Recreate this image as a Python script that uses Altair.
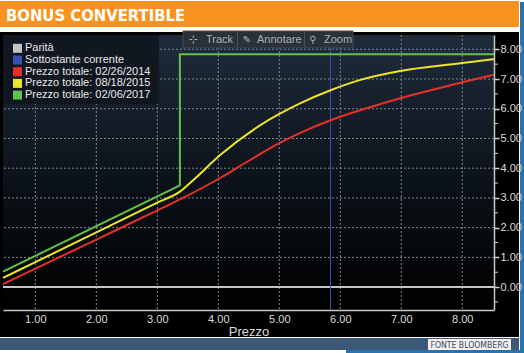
import altair as alt
import pandas as pd

# ---- data ----
x_red = [0.47, 1.0, 2.0, 3.0, 3.38, 4.03, 4.5, 5.0, 5.5, 6.0, 6.5, 7.0, 7.5, 8.0, 8.52]
y_red = [0.10, 0.62, 1.60, 2.58, 2.96, 3.67, 4.25, 4.84, 5.33, 5.73, 6.06, 6.36, 6.63, 6.89, 7.14]

x_yel = [0.47, 1.0, 2.0, 3.0, 3.37, 3.6, 4.03, 4.69, 5.34, 5.85, 6.33, 6.98, 7.97, 8.52]
y_yel = [0.31, 0.84, 1.84, 2.84, 3.21, 3.62, 4.44, 5.45, 6.18, 6.63, 6.97, 7.27, 7.53, 7.67]

x_grn = [0.47, 3.37, 3.37, 8.52]
y_grn = [0.52, 3.42, 7.83, 7.83]

underlying_price = [5.84]
parity_level = [0.0]

x_ticks = [1, 2, 3, 4, 5, 6, 7, 8]
y_ticks = [0, 1, 2, 3, 4, 5, 6, 7, 8]
y_minor = [-0.5, 0.5, 1.5, 2.5, 3.5, 4.5, 5.5, 6.5, 7.5]

legend_labels = ["Parità", "Sottostante corrente", "Prezzo totale: 02/26/2014",
                 "Prezzo totale: 08/18/2015", "Prezzo totale: 02/06/2017"]
legend_colors = ["#c4c4c4", "#3b4fb0", "#e8302a", "#ece62a", "#5fc24e"]

X_DOMAIN = [0.47, 8.52]
Y_DOMAIN = [-0.77, 8.48]
W, H = 491, 275
FONT = "Liberation Sans"

xs = alt.Scale(domain=X_DOMAIN, nice=False, zero=False)
ys = alt.Scale(domain=Y_DOMAIN, nice=False, zero=False)
stroke_scale = alt.Scale(domain=legend_labels, range=legend_colors)

rows = []
for i, (a, b) in enumerate(zip(x_red, y_red)):
    rows.append({"series": legend_labels[2], "x": a, "y": b, "o": i})
for i, (a, b) in enumerate(zip(x_yel, y_yel)):
    rows.append({"series": legend_labels[3], "x": a, "y": b, "o": i})
curves = pd.DataFrame(rows)
green = pd.DataFrame({"series": legend_labels[4], "x": x_grn, "y": y_grn, "o": range(len(x_grn))})

one = alt.Data(values=[{}])


def rect(x, x2, y, y2, fill, **kw):
    return alt.Chart(one).mark_rect(fill=fill, **kw).encode(
        x=alt.value(x), x2=alt.value(x2), y=alt.value(y), y2=alt.value(y2))


def text(t, x, y, **kw):
    return alt.Chart(one).mark_text(text=t, **kw).encode(x=alt.value(x), y=alt.value(y))


# ---- frame decorations ----
orange = rect(-3, 516, -34, -8, "#f7931e")
frame = rect(-3, 516, -3, 302, "#000000")
plotbg = rect(0, W, 0, H, alt.LinearGradient(
    gradient="linear", x1=0, x2=0, y1=0, y2=1,
    stops=[alt.GradientStop(color="#1f2c3c", offset=0),
           alt.GradientStop(color="#0b1118", offset=0.55),
           alt.GradientStop(color="#000000", offset=1)]))
white_line = rect(-3, 516, 302, 303, "#ffffff")
slate = rect(-3, 516, 303, 315, "#3d5876")
fonte_box = rect(425, 508, 304, 315, "#f2f2f2")
fonte_txt = text("FONTE BLOOMBERG", 466.5, 309.8, font="DejaVu Sans Condensed", fontSize=8.6,
                 color="#3a4656", align="center", baseline="middle")
bottom_blue = rect(343, 521, 315, 318, "#2a72ad")
right_strip = rect(517, 521, -33, 318, "#2a72ad")
title = text("BONUS CONVERTIBLE", 3, -14, font="DejaVu Sans Condensed", fontSize=16.5,
             fontWeight="bold", color="#ffffff", align="left", baseline="alphabetic")

# ---- toolbar ----
tool_box = rect(180, 350, -4, 13, "#2b3139", stroke="#454c55", strokeWidth=1)
sep1 = rect(234, 235, -3, 12, "#4a525c")
sep2 = rect(301, 302, -3, 12, "#4a525c")
tcol = "#a9b1ba"
tool_txt = [
    text("⊹", 190, 5, fontSize=11, color=tcol, align="center", baseline="middle", font="DejaVu Sans"),
    text("Track", 203, 5, fontSize=11, color=tcol, align="left", baseline="middle", font=FONT),
    text("✎", 244, 5, fontSize=10, color=tcol, align="center", baseline="middle", font="DejaVu Sans"),
    text("Annotare", 254, 5, fontSize=11, color=tcol, align="left", baseline="middle", font=FONT),
    text("⚲", 310, 5, fontSize=10, color=tcol, align="center", baseline="middle", font="DejaVu Sans"),
    text("Zoom", 321, 5, fontSize=11, color=tcol, align="left", baseline="middle", font=FONT),
]

# ---- legend (drawn by hand, in pixel space) ----
legend_df = pd.DataFrame({"label": legend_labels, "color": legend_colors, "i": range(5)})
legend_box = rect(0, 156, 0, 69, "rgba(16,22,30,0.92)")
legend_base = alt.Chart(legend_df).transform_calculate(py="13.3 + datum.i * 11.7")
legend_sq = legend_base.mark_square(size=81, opacity=1, filled=True).encode(
    x=alt.value(14.5), y=alt.Y("py:Q", scale=None),
    fill=alt.Fill("color:N", scale=None))
legend_tx = legend_base.mark_text(align="left", baseline="middle", font=FONT, fontSize=11,
                                  color="#e8e8e8").encode(
    x=alt.value(22), y=alt.Y("py:Q", scale=None), text="label:N")

x_axis = alt.Axis(values=x_ticks, format=".2f", grid=False, ticks=False, domainColor="#c8c8c8",
                  domainWidth=1.5, labelColor="#dcdcdc", labelFont=FONT, labelFontSize=11,
                  labelPadding=3, title="Prezzo", titleColor="#dcdcdc", titleFont=FONT,
                  titleFontSize=13, titleFontWeight="normal", titlePadding=1, zindex=1)
y_axis = alt.Axis(orient="right", values=y_ticks, format=".2f", grid=False, labelOverlap=False,
                  tickSize=5, tickColor="#d0d0d0", tickWidth=1.5, domainColor="#c8c8c8",
                  domainWidth=1.5, labelColor="#dcdcdc", labelFont=FONT, labelFontSize=11,
                  labelPadding=1, title=None, zindex=1)

X = alt.X("x:Q", scale=xs, axis=x_axis)
Y = alt.Y("y:Q", scale=ys, axis=y_axis)

# ---- grid ----
vgrid = alt.Chart(pd.DataFrame({"x": x_ticks})).mark_rule(
    color="#7f8791", strokeDash=[2, 2], strokeWidth=1).encode(x=X)
hgrid = alt.Chart(pd.DataFrame({"y": y_ticks})).mark_rule(
    color="#7f8791", strokeDash=[2, 2], strokeWidth=1).encode(y=Y)
minor = alt.Chart(pd.DataFrame({"y": y_minor})).mark_rule(
    color="#d0d0d0", strokeWidth=1).encode(y=Y, x=alt.value(W), x2=alt.value(W + 4))

parity = alt.Chart(pd.DataFrame({"y": parity_level, "series": legend_labels[0]})).mark_rule(
    strokeWidth=2).encode(y=Y, stroke=alt.Stroke("series:N", scale=stroke_scale, legend=None))
spot = alt.Chart(pd.DataFrame({"x": underlying_price, "series": legend_labels[1]})).mark_rule(
    strokeWidth=1).encode(x=X, stroke=alt.Stroke("series:N", scale=stroke_scale, legend=None))

lines = alt.Chart(curves).mark_line(strokeWidth=2, interpolate="monotone").encode(
    x=X, y=Y,
    stroke=alt.Stroke("series:N", scale=stroke_scale, legend=None),
    detail="series:N",
    order="o:Q",
)
green_line = alt.Chart(green).mark_line(strokeWidth=2).encode(
    x=X, y=Y,
    stroke=alt.Stroke("series:N", scale=stroke_scale, legend=None),
    order="o:Q",
)

chart = alt.layer(
    orange, frame, plotbg, vgrid, hgrid, minor, parity, spot, lines, green_line,
    legend_box, legend_sq, legend_tx,
    tool_box, sep1, sep2, *tool_txt,
    white_line, slate, fonte_box, fonte_txt, bottom_blue, right_strip, title,
).properties(
    width=W, height=H,
    padding={"left": 3, "top": 35, "right": 30, "bottom": 43},
    autosize=alt.AutoSizeParams(type="none"),
    background="#ffffff",
).configure_view(stroke=None)

chart.save("out.html", embed_options={"renderer": "svg", "actions": False})
